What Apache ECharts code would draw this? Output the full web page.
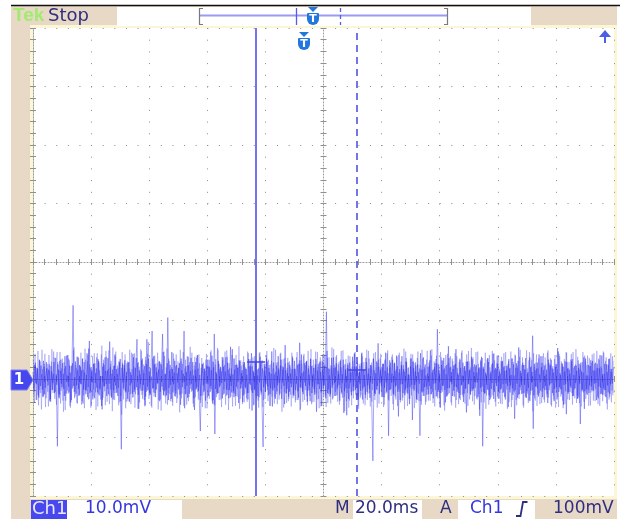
<!DOCTYPE html>
<html><head><meta charset="utf-8">
<script src="https://cdn.jsdelivr.net/npm/echarts@6/dist/echarts.min.js"></script>
<style>html,body{margin:0;padding:0;background:#fff;}#c{width:620px;height:519px;}</style>
</head><body><div id="c"></div>
<script>
// ---- data (mV) ----
const sampleStepMs = 0.4;
const traceA = [
1.2,-2.1,2.8,-0.9,1.7,-3.2,0.6,2.3,-1.8,3.1,-2.6,0.4,1.9,-1.1,2.5,-3.4,1.3,-0.7,2.9,-2.2,
0.8,-11.5,1.6,-2.7,3.3,-1.4,0.9,-2.9,2.2,-0.5,4.1,-2.3,1.1,-3.6,2.7,-1.2,0.3,-2.5,3.8,-1.7,
2.4,-0.8,1.5,-4.2,2.9,-1.9,0.7,-3.1,5.2,-2.4,1.8,-0.6,2.6,-3.3,1.0,-1.5,3.4,-2.8,0.5,-4.6,
2.1,-1.3,3.7,-0.9,1.4,-2.6,6.4,-1.8,0.9,-3.5,2.3,-1.1,1.7,-2.9,3.0,-0.4,-12.0,2.5,-1.6,3.2,
-2.3,0.6,2.8,-3.9,1.2,-0.7,4.3,-2.2,1.9,-1.4,2.7,-5.1,0.8,-2.0,3.5,-1.0,2.2,-3.0,6.8,-1.9,
1.3,-2.7,0.4,-1.6,3.9,-2.4,2.0,-0.8,1.6,-3.8,2.6,-1.3,4.6,-2.1,0.9,-2.8,10.5,-1.5,2.4,-3.4,
1.7,-0.9,3.1,-2.5,1.0,-1.8,2.7,-4.4,1.5,-0.6,8.2,-2.6,1.2,-3.2,2.3,-1.0,3.6,-2.0,0.6,-5.3,
2.9,-1.4,1.8,-3.0,-8.9,0.7,2.5,-2.2,1.4,-0.8,3.3,-2.9,2.0,-1.2,4.0,-3.6,7.7,-1.7,0.9,-2.4,
2.6,-1.1,1.3,-3.3,2.1,-0.5,3.7,-2.7,1.6,-1.9,5.5,-2.3,0.8,-3.1,2.4,-1.3,1.9,-4.1,3.0,-0.9,
1.5,-2.8,2.9,-1.6,0.7,-3.5,2.2,-1.0,4.4,-2.4,1.1,-1.7,3.2,-2.9,1.8,-0.6,2.7,-3.8,-11.6,1.4,
-2.2,3.5,-1.3,1.9,-2.6,0.9,-4.7,2.8,-1.5,1.2,-2.1,3.9,-0.7,2.3,-3.4,1.6,-1.2,5.8,-2.5,1.0,
-3.0,2.4,-0.8,1.7,-2.7,3.1,-1.9,0.5,-3.6,2.6,-1.4,4.2,-2.2,1.3,-0.6,2.9,-3.9,1.8,-1.1,3.4,
-2.4,0.8,-1.7,2.5,-5.6,1.4,-0.9,3.0,-2.3,1.6,-1.2,2.2,-3.3,4.8,-1.8,0.6,-2.6,3.6,-1.0,1.9,
-2.9,2.7,-1.4,0.9,-3.7,2.0,-0.7,3.3,-2.1,1.5,-6.2,2.4,-1.6,1.1,-2.8,3.8,-1.3,2.1,-0.5,2.8,
-3.5,1.2,-2.0,4.5,-1.5,0.7,-2.7,2.9,-1.1,1.8,-3.2,2.3,-0.8,3.5,-2.4,1.0,-1.9,6.1,-2.6,1.5,
-1.2,2.6,-3.1,1.4,-0.6,2.0,-9.7,3.2,-1.7,0.9,-2.5,2.8,-1.3,4.0,-2.2,1.1,-3.6,2.4,-0.9,1.7,
-2.8,3.0,-1.5,0.8,-4.3,2.2,-1.0,2.9,-2.0,1.3,-3.4,2.5,-0.7,-9.7,1.6,-2.3,3.7,-1.4,0.6,-2.7,
2.1,-1.2,4.9,-2.6,1.5,-0.8,2.7,-3.0,8.5,-1.9,0.9,-2.4,3.2,-1.1,1.8,-4.0,2.4,-1.6,3.6,-0.5,
1.2,-2.9,2.3,-1.3,5.1,-2.2,0.7,-3.3,1.9,-1.0,2.8,-2.5,1.4,-5.7,3.0,-0.9,1.6,-2.1,3.4,-1.7,
2.5,-0.6,1.1,-3.1,2.0,-1.5,3.8,-11.5,1.7,-2.4,0.8,-1.8,2.9,-3.6,1.3,-0.7,4.3,-2.2,1.9,-1.2,
2.6,-3.4,0.9,-1.6,3.1,-2.3,1.4,-0.8,2.2,-4.8,1.8,-1.1,3.5,-2.7,0.6,-1.9,2.7,-3.2,5.4,-1.4,
1.0,-2.5,2.4,-1.0,3.6,-2.1,1.2,-3.7,2.0,-0.6,7.4,-2.8,1.5,-1.3,2.8,-3.0,0.8,-2.0,3.9,-1.6,
2.3,-1.2,1.6,-4.1,2.7,-0.9,3.3,-2.4,1.1,-1.7,2.5,-3.5,4.7,-1.4,0.7,-2.6,2.1,-1.0,3.0,-6.0,
1.8,-2.2,0.9,-1.5,3.4,-2.9,2.2,-0.7,1.4,-3.3,2.6,-7.7,1.3,-1.8,3.7,-2.1,0.6,-2.7,2.4,-1.1,
3.2,-1.9,1.5,-0.8,2.8,-3.6,1.9,-1.3,4.1,-2.5,0.8,-1.6,2.6,-3.1,1.2,-2.3,3.5,-0.9,1.7,-2.8
];
const traceB = [
-1.6,2.4,-0.7,1.9,-2.8,3.3,-1.2,0.8,-3.0,2.1,-1.5,2.9,-0.4,1.6,-3.7,2.2,-1.9,0.9,-2.4,3.6,
-1.0,2.5,-3.3,1.4,-0.8,2.7,-1.7,3.9,-2.5,0.6,-1.3,2.3,-4.0,1.7,12.6,-2.2,3.0,-1.1,1.5,-2.9,
2.2,-0.9,3.4,-1.8,1.1,-2.6,4.4,-1.4,6.5,-2.1,1.3,-3.5,2.6,-0.7,1.8,-2.3,3.1,-1.6,0.5,-5.2,
2.7,-1.2,1.4,-2.9,3.6,-0.8,2.0,-3.2,1.6,-1.9,4.2,-2.4,0.9,-1.5,2.8,-3.8,1.9,-0.6,2.4,-2.1,
1.2,-3.4,2.9,-1.1,0.7,-2.5,3.7,-1.8,2.3,6.8,-2.7,1.5,-0.9,3.2,-2.0,1.0,-4.5,2.6,-1.3,3.5,
-2.4,1.8,8.2,-1.6,2.5,-3.1,1.2,-0.7,3.0,-2.2,1.7,7.7,-2.8,0.8,-1.9,2.7,-3.6,1.4,-1.0,4.6,
-2.3,1.1,-3.0,2.4,-0.6,1.9,-2.7,3.5,-1.4,0.9,-5.0,2.2,-1.2,3.8,-2.5,1.3,-0.8,2.9,-3.3,1.6,
-1.7,4.1,-2.0,0.7,-2.9,2.6,-1.1,1.8,-3.7,2.3,-0.9,3.3,-2.2,1.5,-4.2,2.0,-9.4,1.2,-2.6,3.1,
-1.4,2.0,-0.7,3.7,-2.5,1.3,-1.8,2.8,-3.3,0.9,-1.2,5.1,-2.1,1.6,-2.9,2.4,-0.5,3.2,-1.6,1.0,
-3.9,2.5,-1.3,1.7,-2.4,3.4,-0.8,2.1,-5.4,1.4,-1.9,2.9,-1.0,0.6,-3.1,3.8,-2.3,1.8,-1.4,2.6,
-0.9,3.0,-2.8,1.2,-1.6,4.7,-2.0,0.8,-3.4,2.3,-1.1,1.6,-2.5,3.3,-0.6,2.0,-4.3,1.5,-1.7,2.8,
-2.2,0.9,-1.4,3.6,-2.9,1.7,-0.8,2.4,-3.2,6.2,-1.5,1.0,-2.6,2.7,-1.2,3.1,-2.0,0.7,-3.8,2.2,
-1.3,1.9,-2.7,3.4,-0.9,2.6,-1.7,1.2,-4.6,2.9,-1.1,0.6,11.5,-2.4,1.8,-3.0,2.3,-1.5,3.7,-0.7,
2.0,-2.8,1.4,-1.0,3.1,-2.3,0.8,-5.8,2.5,-1.6,1.9,-3.4,2.8,-0.6,1.3,-2.1,4.3,-1.8,2.2,-2.9,
1.1,-0.8,2.7,-3.5,1.6,-1.3,3.6,-2.2,0.9,-1.7,2.4,-4.0,-14.0,1.5,-2.6,3.0,-1.2,2.1,-0.7,1.8,
-3.1,2.6,-1.5,4.5,-2.3,1.0,-1.9,2.8,-0.6,3.3,-2.7,1.4,-1.1,2.2,-6.4,1.7,-0.9,3.9,-2.4,1.3,
-1.8,2.9,-2.5,0.7,-1.4,3.5,-7.0,1.9,-1.0,2.3,-3.6,1.2,-0.8,4.4,-2.1,1.6,-2.9,2.5,-1.3,0.9,
-2.6,3.2,-1.7,1.1,-3.3,2.0,-0.7,2.7,-2.2,1.5,-4.9,2.4,-1.2,3.6,-1.9,0.8,-2.8,5.6,-1.5,2.1,
-0.9,1.7,-3.0,2.6,-1.4,1.0,-2.4,3.3,-1.1,0.6,-3.9,2.2,-1.6,2.9,-0.8,1.5,-2.7,3.8,-2.0,1.2,
-1.5,2.4,-0.6,1.8,-6.3,3.0,-1.3,2.1,-2.5,1.1,-1.0,3.5,-2.8,0.9,-1.7,2.7,-3.4,1.6,-0.7,4.0,
-2.1,1.3,-1.8,2.9,-0.9,2.2,-3.5,1.5,-1.2,3.4,-2.3,0.7,-1.6,2.5,-6.8,1.9,-0.8,3.1,-2.6,1.4,
-1.0,2.8,-2.4,1.6,-3.2,0.9,-1.5,3.7,-2.0,1.2,-8.5,2.6,-1.3,1.8,-2.7,4.2,-0.6,2.0,-3.1,1.5,
-1.9,0.8,-2.6,3.3,-1.1,2.4,-0.7,1.7,-3.8,2.1,-1.4,5.3,-2.2,1.0,-1.8,2.6,-4.4,1.3,-0.9,2.9,
-2.5,1.6,-1.2,3.0,-2.9,0.7,-1.6,2.3,-3.4,1.9,-0.8,2.8,-2.1,1.1,-5.1,3.5,-1.7,0.6,-2.4,2.2,
-1.3,3.1,-2.0,1.4,-0.7,2.6,-3.3,1.8,-1.5,4.0,-2.7,0.9,-1.9,2.5,-1.1,3.4,-2.6,1.2,-0.8,2.0
];
const traceC = [
3.4,-4.1,2.2,-3.6,4.8,-1.9,3.0,-5.2,1.7,-2.8,4.3,-3.3,2.6,-4.7,1.4,-3.9,5.1,-2.4,3.7,-1.6,
-4.4,2.9,-3.1,4.6,-2.0,3.5,-5.6,1.8,-3.7,4.0,-2.5,3.2,-4.9,2.3,-1.5,5.4,-3.0,1.9,-4.2,3.6,
-2.7,4.5,-3.8,1.6,-5.0,3.3,-2.1,4.1,-3.4,2.0,-4.6,3.9,-1.8,2.7,-5.3,4.4,-2.6,1.5,-3.5,5.7,
-3.2,2.4,-4.5,3.8,-1.7,4.9,-2.9,3.1,-5.5,2.2,-3.6,4.7,-2.3,1.9,-4.0,3.4,-6.1,2.8,-1.9,4.2,
-3.9,3.0,-2.2,5.0,-4.3,1.7,-3.1,4.4,-2.6,3.6,-5.1,2.1,-1.6,4.8,-3.4,2.5,-4.7,3.2,-2.0,6.3,
-2.8,1.8,-4.9,3.7,-3.0,2.6,-1.8,4.5,-3.6,2.9,-5.4,1.6,-2.7,3.9,-4.2,5.2,-2.4,3.1,-3.8,2.0,
-4.6,3.5,-2.0,4.2,-3.3,1.9,-5.7,3.0,-2.5,4.6,-1.7,3.3,-4.4,2.4,-3.1,5.5,-2.2,1.6,-4.8,3.8,
-1.9,4.0,-3.5,2.7,-4.1,3.6,-2.8,1.7,-5.0,4.3,-3.2,2.2,-1.6,4.9,-3.7,2.9,-4.5,3.4,-2.3,5.0,
-3.6,2.1,-4.8,3.3,-1.8,4.7,-2.9,3.8,-5.3,1.9,-3.0,4.1,-2.4,3.5,-4.6,2.6,-1.7,5.6,-3.4,2.3,
-4.3,3.9,-2.6,1.8,-3.9,4.4,-5.1,2.5,-2.1,3.7,-4.4,2.9,-3.3,1.6,-4.9,4.6,-2.7,3.2,-3.6,2.2,
-2.0,4.8,-3.8,2.4,-4.6,3.1,-1.7,5.3,-3.1,2.8,-4.3,1.9,-2.8,4.5,-5.6,3.4,-2.3,2.7,-4.1,3.6,
-3.4,2.0,-4.7,3.9,-2.5,1.8,-3.6,4.6,-2.0,3.2,-5.2,2.6,-3.9,4.3,-1.9,3.0,-4.5,2.3,-2.9,5.1,
-4.0,3.3,-2.3,4.7,-3.5,2.1,-5.0,3.7,-1.8,4.2,-3.0,2.5,-4.8,3.6,-2.6,1.7,-4.2,5.4,-3.3,2.4,
-2.2,4.1,-3.9,2.9,-1.6,4.8,-3.2,2.3,-5.5,3.4,-2.4,4.0,-3.7,1.8,-4.5,3.1,-2.0,4.6,-3.5,2.6,
-5.1,2.2,-2.8,3.9,-4.2,1.7,-3.3,5.0,-2.5,3.5,-4.7,2.8,-1.9,4.4,-3.6,2.0,-4.9,3.3,-2.4,4.3,
-3.0,2.6,-4.4,3.4,-2.1,4.9,-3.7,1.9,-2.9,4.2,-5.3,2.7,-3.5,3.8,-1.8,4.5,-4.0,2.2,-3.2,5.2,
-2.5,3.6,-4.6,2.0,-3.4,4.3,-1.7,3.1,-5.0,2.9,-2.3,4.7,-3.8,2.4,-4.4,3.5,-2.1,1.8,-3.9,4.8,
-3.7,2.3,-2.6,5.1,-4.1,3.0,-1.9,4.0,-3.3,2.5,-4.8,3.7,-2.2,1.6,-5.4,4.1,-3.0,2.8,-2.4,3.9,
-4.5,3.1,-2.0,4.4,-3.6,1.9,-4.3,3.5,-2.7,4.9,-3.1,2.2,-1.7,4.2,-4.6,3.0,-2.5,5.3,-3.8,2.1,
-2.9,4.6,-3.5,2.6,-5.2,3.3,-2.2,1.8,-4.0,4.5,-2.8,3.6,-4.4,2.0,-3.1,4.8,-1.9,3.2,-4.7,2.7,
-3.3,1.7,-4.2,3.8,-2.4,4.4,-3.0,2.3,-5.1,3.1,-1.8,4.7,-3.6,2.9,-2.3,4.0,-4.5,1.9,-3.4,5.0,
-2.6,3.7,-4.9,2.4,-3.2,1.8,-4.1,4.6,-2.7,3.3,-5.5,2.1,-3.7,4.2,-1.6,3.5,-4.3,2.8,-2.2,4.4,
-4.0,2.5,-3.1,4.9,-1.9,3.6,-4.7,2.2,-3.5,4.1,-2.4,1.7,-4.8,3.9,-3.0,2.7,-5.0,3.4,-2.1,4.5,
-3.5,2.9,-2.2,4.3,-4.4,1.9,-3.3,5.1,-2.8,3.2,-4.1,2.4,-1.8,4.6,-3.9,3.0,-2.5,4.0,-4.6,2.2,
-2.3,4.2,-3.7,2.6,-1.7,4.8,-4.3,3.3,-2.6,1.9,-3.8,4.5,-2.9,3.7,-5.2,2.3,-3.1,4.4,-2.0,3.1
];
const traceD = [
-2.9,4.3,-3.6,1.9,-4.5,3.2,-2.4,5.0,-3.1,2.6,-4.8,1.7,-2.2,4.1,-3.9,3.0,-1.8,4.7,-3.4,2.3,
4.6,-2.5,3.1,-4.2,1.8,-3.7,2.9,-5.3,4.0,-2.0,3.5,-4.6,2.2,-1.7,4.9,-3.3,2.4,-4.1,3.8,-2.7,
2.0,-4.4,3.6,-2.8,5.2,-1.9,3.0,-3.5,2.5,-4.9,1.6,-3.0,4.4,-2.3,3.7,-4.7,2.8,-1.8,4.2,-3.6,
3.3,-2.1,4.8,-3.9,1.7,-4.3,2.6,-3.0,5.4,-2.4,3.9,-1.7,2.3,-4.5,3.4,-2.9,4.6,-3.5,1.9,-5.0,
2.7,-3.8,1.8,-2.6,4.5,-3.2,2.1,-4.9,3.6,-1.9,2.9,-4.0,5.1,-2.7,1.6,-3.6,3.8,-2.2,4.3,-3.4,
1.9,-4.6,3.4,-2.3,4.0,-1.8,2.7,-5.2,3.1,-3.5,2.4,-1.9,4.7,-3.0,2.0,-4.4,3.5,-2.6,1.7,-3.9,
4.4,-2.9,2.2,-4.1,3.0,-1.6,5.0,-3.3,2.6,-4.6,1.8,-2.5,3.9,-3.8,2.9,-1.7,4.5,-4.2,2.3,-3.1,
3.6,-2.2,4.2,-3.6,1.9,-4.8,2.8,-2.0,3.3,-5.0,2.1,-3.4,4.6,-1.8,3.0,-4.3,2.5,-3.1,5.3,-2.4,
1.7,-3.5,3.8,-2.7,2.4,-4.4,4.9,-1.9,2.7,-3.2,1.8,-4.7,3.5,-2.5,4.1,-3.0,2.0,-5.1,3.2,-1.6,
2.9,-4.0,2.0,-3.3,4.7,-2.4,3.4,-1.8,2.2,-4.5,3.9,-2.9,1.6,-3.7,4.4,-2.0,3.1,-4.8,2.6,-3.4,
4.1,-1.9,3.3,-4.6,2.5,-3.0,1.8,-4.2,5.0,-2.6,2.9,-3.5,4.3,-1.7,2.2,-4.9,3.6,-2.4,1.9,-3.8,
3.0,-2.7,4.5,-3.3,1.7,-4.0,3.7,-2.1,2.6,-5.4,3.2,-1.8,4.0,-3.6,2.4,-2.9,4.8,-1.9,3.5,-4.3,
2.3,-3.9,1.9,-2.5,4.6,-3.4,2.8,-4.7,3.1,-1.7,4.2,-2.8,2.0,-4.1,3.7,-2.3,1.8,-3.5,5.1,-2.9,
3.8,-1.8,2.5,-4.4,3.3,-2.6,4.9,-3.1,1.7,-3.8,2.7,-4.9,3.9,-2.2,2.1,-3.3,4.5,-2.7,1.9,-4.6,
2.6,-3.2,4.3,-1.9,2.9,-4.5,2.0,-3.6,4.8,-2.4,1.8,-3.9,3.4,-2.9,4.6,-1.7,2.8,-4.2,3.5,-2.1,
1.8,-4.8,3.2,-2.5,4.4,-3.5,2.3,-1.9,3.8,-4.3,2.6,-3.0,1.7,-4.6,4.1,-2.2,3.0,-3.7,2.4,-5.2,
4.7,-2.3,1.9,-3.4,3.5,-2.8,4.2,-1.7,2.7,-4.1,3.6,-2.5,1.8,-3.8,5.0,-2.9,2.1,-4.4,3.3,-1.8,
2.8,-3.7,4.0,-2.2,1.7,-4.7,3.4,-2.9,2.5,-3.3,4.6,-1.9,3.1,-4.5,2.2,-3.0,4.3,-2.6,1.9,-4.0,
3.5,-2.0,2.4,-4.9,3.9,-1.8,2.9,-3.6,4.5,-2.7,1.9,-4.2,3.0,-2.4,4.8,-3.5,2.0,-1.7,3.7,-4.4,
2.1,-3.3,4.7,-2.6,1.8,-4.0,3.6,-2.2,2.7,-5.1,3.3,-1.9,4.1,-3.4,2.5,-2.8,4.4,-3.9,1.7,-3.0,
4.0,-2.4,3.1,-4.3,2.0,-3.1,4.6,-1.8,2.6,-3.9,1.9,-4.8,3.5,-2.1,4.2,-3.6,2.3,-2.7,3.8,-1.9,
2.4,-4.5,1.7,-3.0,4.9,-2.5,3.2,-3.8,2.2,-1.9,4.4,-3.3,2.8,-4.6,1.8,-2.4,3.9,-4.1,2.7,-3.5,
3.7,-1.9,4.5,-3.2,2.3,-4.4,1.9,-2.8,3.4,-4.9,2.6,-3.1,4.3,-1.7,3.0,-3.7,2.1,-4.3,4.6,-2.2,
1.9,-3.6,3.3,-2.4,4.6,-1.8,2.5,-4.1,3.8,-3.0,1.7,-4.7,2.9,-2.3,4.0,-3.4,2.4,-1.9,3.6,-4.5,
2.8,-2.1,4.4,-3.8,1.8,-3.0,3.5,-4.6,2.2,-2.6,4.7,-1.9,3.1,-4.2,2.5,-3.5,1.7,-4.0,3.9,-2.4
];
const cursorTimesMs = [76.8, 111.5];
const cursorLevelsMv = [2.9, 1.5];
const statusLabels = ['Tek', 'Stop'];
const readoutLabels = ['Ch1', '10.0mV', 'M', '20.0ms', 'A', 'Ch1', '100mV'];
const xRange = [0, 200, 20];   // ms: min, max, per division
const yRange = [-20, 60, 10];  // mV: min, max, per division

// ---- chart ----
const chart = echarts.init(document.getElementById('c'), null, {renderer: 'canvas'});
const GRID = {left: 33, top: 28, width: 581, height: 468};
const dotColor = '#8c8c8c';

function baseAxis(range, extra) {
  return Object.assign({
    type: 'value', min: range[0], max: range[1], interval: range[2],
    axisLabel: {show: false}, splitLine: {show: false},
    axisLine: {show: false}, axisTick: {show: false}, minorTick: {show: false}
  }, extra);
}
const tickStyle = {color: '#909090', width: 1};
function tickAxis(range, position, offset, inside, withLine) {
  return baseAxis(range, {
    position: position, offset: offset,
    axisLine: {show: withLine, lineStyle: {color: '#9a9a9a', width: 1, type: [1, 2]}},
    axisTick: {show: true, inside: inside, length: 3, lineStyle: tickStyle},
    minorTick: {show: true, splitNumber: 5, length: 3, lineStyle: tickStyle}
  });
}

const xAxis = [
  Object.assign(tickAxis(xRange, 'bottom', 0, true, true), {
    splitLine: {show: true, lineStyle: {color: dotColor, width: 1, type: [1, 10.7]}}
  }),
  tickAxis(xRange, 'top', 0, true, true),
  tickAxis(xRange, 'bottom', -234, true, true),
  tickAxis(xRange, 'bottom', -234, false, false)
];
const yAxis = [
  Object.assign(tickAxis(yRange, 'left', 0, true, true), {
    splitLine: {show: true, lineStyle: {color: dotColor, width: 1, type: [1, 10.62]}}
  }),
  tickAxis(yRange, 'right', 0, true, true),
  tickAxis(yRange, 'left', -290.5, true, true),
  tickAxis(yRange, 'left', -290.5, false, false)
];

const traceColor = '#3030ee';
function traceSeries(name, values, startMs, opacity, withCursors) {
  const s = {
    name: name, type: 'line', xAxisIndex: 0, yAxisIndex: 0,
    data: values.map((v, i) => [startMs + i * sampleStepMs, v]),
    showSymbol: false, symbol: 'none', silent: true, z: 3,
    lineStyle: {color: traceColor, width: 1, opacity: opacity}
  };
  if (withCursors) {
    const half = 3.1;
    s.markLine = {
      silent: true, symbol: 'none', label: {show: false}, animation: false,
      lineStyle: {color: '#4646e6', width: 1.5, opacity: 1},
      data: [
        {xAxis: cursorTimesMs[0], lineStyle: {type: 'solid'}},
        {xAxis: cursorTimesMs[1], lineStyle: {type: [7, 5]}},
        [{coord: [cursorTimesMs[0] - half, cursorLevelsMv[0]], lineStyle: {type: 'solid'}},
         {coord: [cursorTimesMs[0] + half, cursorLevelsMv[0]]}],
        [{coord: [cursorTimesMs[1] - half, cursorLevelsMv[1]], lineStyle: {type: 'solid'}},
         {coord: [cursorTimesMs[1] + half, cursorLevelsMv[1]]}]
      ]
    };
  }
  return s;
}

const beige = '#e8d9c6';
const navy = '#2f2f82';
const chBlue = '#3636e0';
const font17 = '17px "DejaVu Sans"';
function rect(x, y, w, h, fill, z) { return {type: 'rect', shape: {x: x, y: y, width: w, height: h}, style: {fill: fill}, z: z, silent: true}; }
function txt(t, x, y, fill, font, align, z) {
  return {type: 'text', x: x, y: y, z: z || 50, silent: true,
    style: {text: t, fill: fill, font: font, textAlign: align || 'left', textVerticalAlign: 'middle', align: align || 'left', verticalAlign: 'middle'}};
}
function line(pts, stroke, width, dash, z) {
  return {type: 'polyline', shape: {points: pts}, style: {stroke: stroke, lineWidth: width, fill: null, lineDash: dash || null}, z: z || 50, silent: true};
}
function tIcon(cx, top, color) {
  return [
    {type: 'polygon', shape: {points: [[cx - 5, top], [cx + 5, top], [cx, top + 5]]}, style: {fill: color}, z: 60, silent: true},
    {type: 'rect', shape: {x: cx - 6, y: top + 6, width: 12, height: 12, r: [1, 1, 6, 6]}, style: {fill: color}, z: 60, silent: true},
    txt('T', cx, top + 12, '#ffffff', 'bold 11px "DejaVu Sans"', 'center', 61)
  ];
}

const graphic = [
  rect(11, 5, 606, 514, beige, -100),
  line([[11, 5.5], [620, 5.5]], '#111111', 1.5, null, -90),
  rect(30, 25, 587, 474, '#fbf6d6', -95),
  rect(GRID.left, GRID.top, GRID.width, GRID.height, '#ffffff', -94),
  // top status bar
  rect(117, 7, 414, 19, '#ffffff', -90),
  txt(statusLabels[0], 13, 15.5, '#a2ea70', 'bold 19px "Liberation Sans"', 'left', 50),
  txt(statusLabels[1], 48, 16, navy, '18px "DejaVu Sans"', 'left', 50),
  line([[199, 15.5], [448, 15.5]], '#9a9af2', 2, null, 50),
  line([[203, 8.5], [199.5, 8.5], [199.5, 24.5], [203, 24.5]], '#7a7a7a', 1.2, null, 51),
  line([[444, 8.5], [447.5, 8.5], [447.5, 24.5], [444, 24.5]], '#7a7a7a', 1.2, null, 51),
  line([[296.5, 8], [296.5, 25]], '#5a5ae8', 1.3, null, 52),
  line([[340.5, 8], [340.5, 25]], '#5a5ae8', 1.3, [4, 3], 52),
  ...tIcon(313, 7, '#2277dd'),
  // trigger position marker in plot
  ...tIcon(304, 32, '#2277dd'),
  // trigger level arrow (off-screen above)
  {type: 'polygon', shape: {points: [[599, 37], [611, 37], [605, 30]]}, style: {fill: '#4a5ee6'}, z: 60, silent: true},
  line([[605, 36], [605, 43]], '#4a5ee6', 2, null, 60),
  // channel 1 ground marker
  {type: 'polygon', shape: {points: [[11, 370], [27, 370], [33, 380], [27, 390], [11, 390]]}, style: {fill: '#4646ee', stroke: '#7c7cf6', lineWidth: 1}, z: 60, silent: true},
  txt('1', 19, 380.5, '#ffffff', 'bold 15px "DejaVu Sans"', 'center', 61),
  // bottom readout
  rect(31, 500, 36, 19, '#4848ee', -90),
  rect(67, 500, 115, 19, '#ffffff', -90),
  rect(353, 500, 69, 19, '#ffffff', -90),
  rect(458, 500, 77, 19, '#ffffff', -90),
  txt(readoutLabels[0], 32, 509, '#e8e8ff', '18px "DejaVu Sans"', 'left', 50),
  txt(readoutLabels[1], 85, 509, chBlue, font17, 'left', 50),
  txt(readoutLabels[2], 335, 509, navy, font17, 'left', 50),
  txt(readoutLabels[3], 355, 509, navy, font17, 'left', 50),
  txt(readoutLabels[4], 440, 509, navy, font17, 'left', 50),
  txt(readoutLabels[5], 470, 509, chBlue, font17, 'left', 50),
  line([[516, 516], [520.5, 516], [523, 502], [527.5, 502]], navy, 1.8, null, 50),
  txt(readoutLabels[6], 553, 509, navy, font17, 'left', 50)
];

chart.setOption({
  animation: false,
  backgroundColor: '#ffffff',
  grid: Object.assign({show: false, containLabel: false}, GRID),
  xAxis: xAxis,
  yAxis: yAxis,
  graphic: graphic,
  series: [
    traceSeries('Ch1 pass C', traceC, sampleStepMs / 4, 0.26, false),
    traceSeries('Ch1 pass D', traceD, sampleStepMs * 3 / 4, 0.26, false),
    traceSeries('Ch1 pass A', traceA, 0, 0.42, true),
    traceSeries('Ch1 pass B', traceB, sampleStepMs / 2, 0.42, false)
  ]
});
</script>
</body></html>
